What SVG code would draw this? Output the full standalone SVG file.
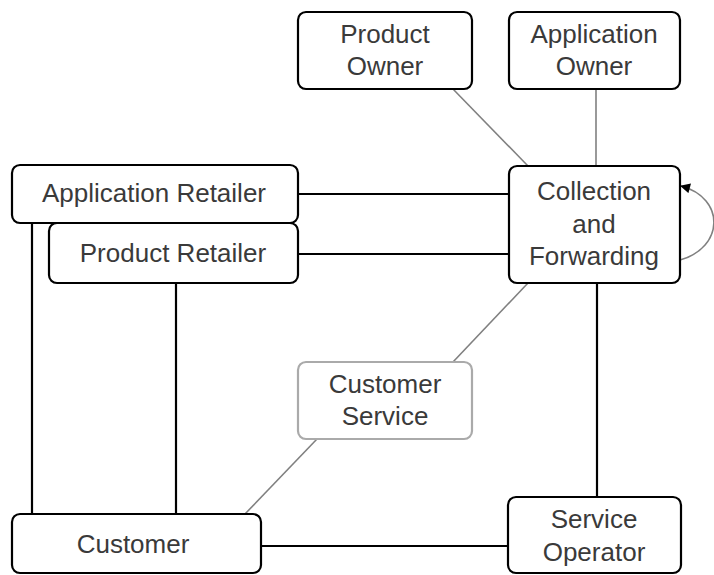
<svg xmlns="http://www.w3.org/2000/svg" width="714" height="575" viewBox="0 0 714 575">
<defs>
<style>
.box{fill:#fff;stroke:#000;stroke-width:2.2}
.box.light{stroke:#aaa}
.t{font-family:"Liberation Sans",Arial,sans-serif;font-size:26px;fill:#3a3a3a;text-anchor:middle}
.c{fill:none;stroke:#000;stroke-width:2.2}
.g{fill:none;stroke:#808080;stroke-width:1.6}
</style>
<marker id="arr" viewBox="0 0 10 10" refX="9" refY="5" markerWidth="12" markerHeight="10" orient="auto" markerUnits="userSpaceOnUse">
<path d="M0,0 L10,5 L0,10 z" fill="#000"/>
</marker>
</defs>
<rect width="714" height="575" fill="#fff"/>
<g id="connectors">
<line class="g" x1="452" y1="88" x2="528" y2="166"/>
<line class="g" x1="596" y1="89" x2="596" y2="166"/>
<line class="c" x1="298" y1="194" x2="509" y2="194"/>
<line class="c" x1="298" y1="254" x2="509" y2="254"/>
<line class="c" x1="32" y1="223" x2="32" y2="514"/>
<line class="c" x1="176" y1="283" x2="176" y2="514"/>
<line class="g" x1="528" y1="283" x2="453" y2="362"/>
<line class="g" x1="317" y1="439" x2="245" y2="514"/>
<line class="c" x1="597" y1="283" x2="597" y2="497"/>
<line class="c" x1="261" y1="546" x2="508" y2="546"/>
<path class="g" d="M680,260 C724,248 726,198 681,186" marker-end="url(#arr)"/>
</g>
<g id="product-owner">
<rect class="box" x="298" y="12" width="174" height="77" rx="8"/>
<text class="t" x="385" y="43">Product</text>
<text class="t" x="385" y="75">Owner</text>
</g>
<g id="application-owner">
<rect class="box" x="509" y="12" width="171" height="77" rx="8"/>
<text class="t" x="594" y="43">Application</text>
<text class="t" x="594" y="75">Owner</text>
</g>
<g id="collection-forwarding">
<rect class="box" x="509" y="166" width="171" height="117" rx="8"/>
<text class="t" x="594" y="200">Collection</text>
<text class="t" x="594" y="233">and</text>
<text class="t" x="594" y="265">Forwarding</text>
</g>
<g id="application-retailer">
<rect class="box" x="12" y="165" width="286" height="58" rx="8"/>
<text class="t" x="154" y="202">Application Retailer</text>
</g>
<g id="product-retailer">
<rect class="box" x="49" y="223" width="249" height="60" rx="8"/>
<text class="t" x="173" y="262">Product Retailer</text>
</g>
<g id="customer-service">
<rect class="box light" x="298" y="362" width="174" height="77" rx="8"/>
<text class="t" x="385" y="393">Customer</text>
<text class="t" x="385" y="425">Service</text>
</g>
<g id="customer">
<rect class="box" x="12" y="514" width="249" height="59" rx="8"/>
<text class="t" x="133" y="553">Customer</text>
</g>
<g id="service-operator">
<rect class="box" x="508" y="497" width="173" height="76" rx="8"/>
<text class="t" x="594" y="528">Service</text>
<text class="t" x="594" y="561">Operator</text>
</g>
</svg>
